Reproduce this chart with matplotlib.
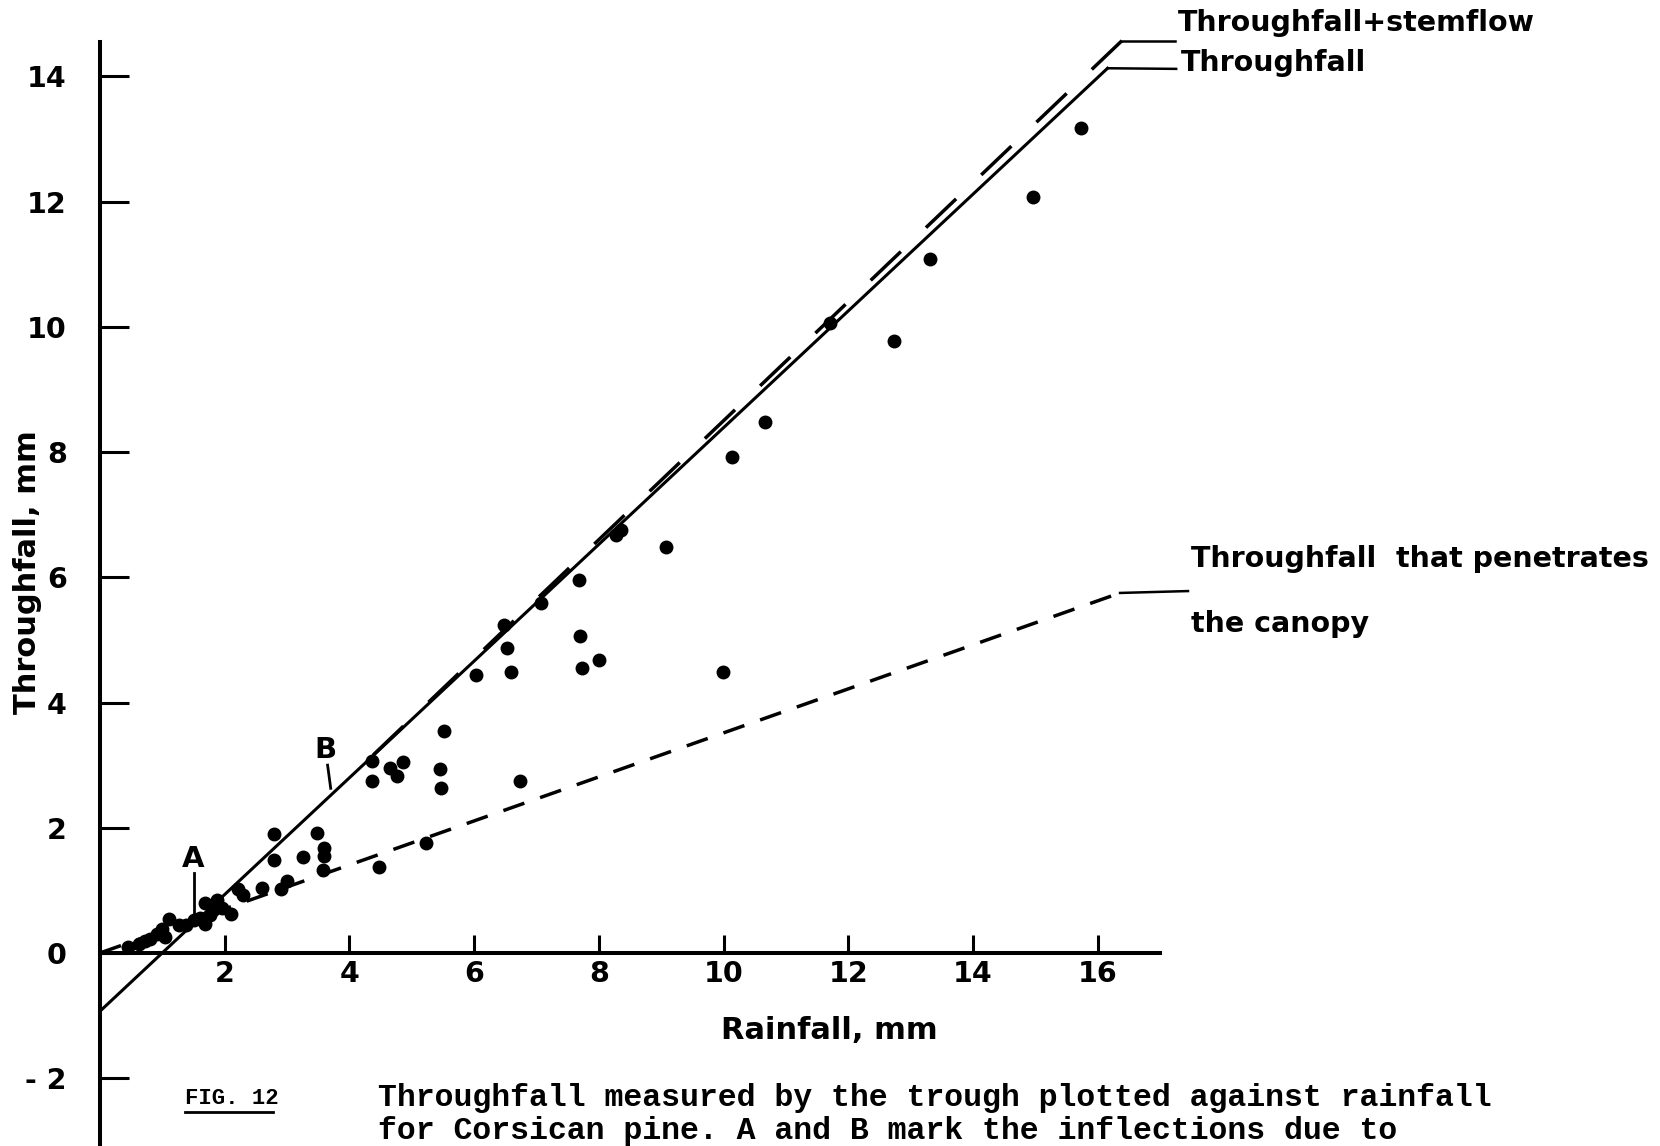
import matplotlib
matplotlib.use("Agg")
import matplotlib.pyplot as plt
from matplotlib.lines import Line2D

plt.rcParams["font.family"] = ["DejaVu Sans"]
plt.rcParams["lines.scale_dashes"] = False

# measured storms: rainfall (mm) vs throughfall (mm)
rainfall = [
    0.45, 0.62, 0.72, 0.80, 0.92, 0.99, 1.10, 1.05, 1.26, 1.38,
    1.50, 1.60, 1.68, 1.68, 1.76, 1.87, 1.82, 1.95, 2.10,
    2.22, 2.30, 2.60, 2.90, 3.00,
    2.79, 2.79, 3.26, 3.48, 3.59, 3.59, 3.58, 4.48, 5.23,
    4.37, 4.37, 4.65, 4.76, 4.86, 5.52, 5.46, 5.47, 6.74,
    6.03, 6.48, 6.52, 6.59, 7.08, 7.68, 7.70, 7.73, 8.01,
    8.28, 8.36, 9.07, 9.99, 10.14, 10.66, 11.71, 12.73, 13.31,
    14.97, 15.73,
]
throughfall = [
    0.10, 0.15, 0.19, 0.22, 0.30, 0.38, 0.54, 0.25, 0.45, 0.44,
    0.52, 0.56, 0.47, 0.80, 0.60, 0.84, 0.68, 0.72, 0.62,
    1.02, 0.92, 1.03, 1.02, 1.15,
    1.90, 1.49, 1.54, 1.92, 1.67, 1.55, 1.33, 1.38, 1.75,
    3.06, 2.74, 2.95, 2.82, 3.05, 3.55, 2.94, 2.64, 2.75,
    4.44, 5.24, 4.87, 4.48, 5.59, 5.95, 5.07, 4.55, 4.68,
    6.68, 6.76, 6.49, 4.48, 7.92, 8.48, 10.06, 9.78, 11.09,
    12.08, 13.18,
]

# fitted lines (end points)
tf_x = [0.0, 16.16]
tf_y = [-0.93, 14.13]
stem_x = [16.39, 4.0]   # drawn from the top so the dash meets the leader
stem_y = [14.57, 2.8]
pen_x = [0.0, 16.36]
pen_y = [0.0, 5.75]

x_ticks = [2, 4, 6, 8, 10, 12, 14, 16]
y_ticks = [-2, 0, 2, 4, 6, 8, 10, 12, 14]
y_tick_labels = ["- 2", "0", "2", "4", "6", "8", "10", "12", "14"]

fig = plt.figure(figsize=(16.6, 11.46), dpi=100)
ax = fig.add_axes([0, 0, 1, 1])
ax.set_xlim(-1.604, 25.02)
ax.set_ylim(-3.083, 15.22)

# axes drawn through the origin
for s in ["top", "right"]:
    ax.spines[s].set_visible(False)
ax.spines["left"].set_position(("data", 0))
ax.spines["bottom"].set_position(("data", 0))
ax.spines["left"].set_bounds(-3.2, 14.55)
ax.spines["bottom"].set_bounds(0, 17.0)
ax.spines["left"].set_linewidth(2.9)
ax.spines["bottom"].set_linewidth(2.9)

ax.set_xticks(x_ticks)
ax.set_yticks(y_ticks)
ax.set_yticklabels(y_tick_labels)
ax.tick_params(axis="y", direction="in", length=21, width=2.2, pad=24,
               labelsize=20.5)
ax.tick_params(axis="x", direction="in", length=13, width=2.2, pad=5,
               labelsize=20.5)
for lab in ax.get_xticklabels() + ax.get_yticklabels():
    lab.set_fontweight("bold")

ax.set_xlabel("Rainfall, mm", fontsize=22, fontweight="bold")
ax.xaxis.set_label_coords(11.69, -1.0, transform=ax.transData)
ax.set_ylabel("Throughfall, mm", fontsize=22, fontweight="bold")
ax.yaxis.set_label_coords(-0.93, 6.09, transform=ax.transData)

# lines
ax.plot(tf_x, tf_y, color="black", lw=2.2)
ax.plot(stem_x, stem_y, color="black", lw=2.5, dashes=(30, 25))
ax.plot(pen_x, pen_y, color="black", lw=2.5, dashes=(16, 12))

# data points
ax.plot(rainfall, throughfall, "o", color="black", ms=9, mec="black")

# leaders and labels
ax.plot([tf_x[1], 17.26], [tf_y[1], 14.12], color="black", lw=1.8)
ax.plot([stem_x[0], 17.24], [stem_y[0], 14.57], color="black", lw=1.8)
ax.plot([pen_x[1], 17.45], [pen_y[1], 5.78], color="black", lw=1.8)

ax.text(17.29, 14.86, "Throughfall+stemflow", fontsize=20.5,
        fontweight="bold", va="center")
ax.text(17.33, 14.21, "Throughfall", fontsize=20.5, fontweight="bold",
        va="center")
ax.text(17.5, 6.29, "Throughfall  that penetrates", fontsize=20.5,
        fontweight="bold", va="center")
ax.text(17.5, 5.25, "the canopy", fontsize=20.5, fontweight="bold",
        va="center")

# inflection markers
ax.text(1.49, 1.50, "A", fontsize=21, fontweight="bold", ha="center",
        va="center")
ax.plot([1.50, 1.50], [1.27, 0.63], color="black", lw=2)
ax.text(3.62, 3.24, "B", fontsize=21, fontweight="bold", ha="center",
        va="center")
ax.plot([3.65, 3.70], [3.00, 2.63], color="black", lw=2)

# caption
cap_font = ["Liberation Mono", "DejaVu Sans Mono"]
fig.text(185 / 1660, 1 - 1098 / 1146, "FIG. 12", family=cap_font,
         fontsize=16, fontweight="bold", va="center")
fig.add_artist(Line2D([185 / 1660, 273 / 1660], [1 - 1112 / 1146, 1 - 1112 / 1146],
                      color="black", lw=2))
fig.text(378 / 1660, 1 - 1098 / 1146,
         "Throughfall measured by the trough plotted against rainfall",
         family=cap_font, fontsize=22.7, fontweight="bold", va="center")
fig.text(378 / 1660, 1 - 1131 / 1146,
         "for Corsican pine. A and B mark the inflections due to",
         family=cap_font, fontsize=22.7, fontweight="bold", va="center")

fig.savefig("out.png", dpi=100)
